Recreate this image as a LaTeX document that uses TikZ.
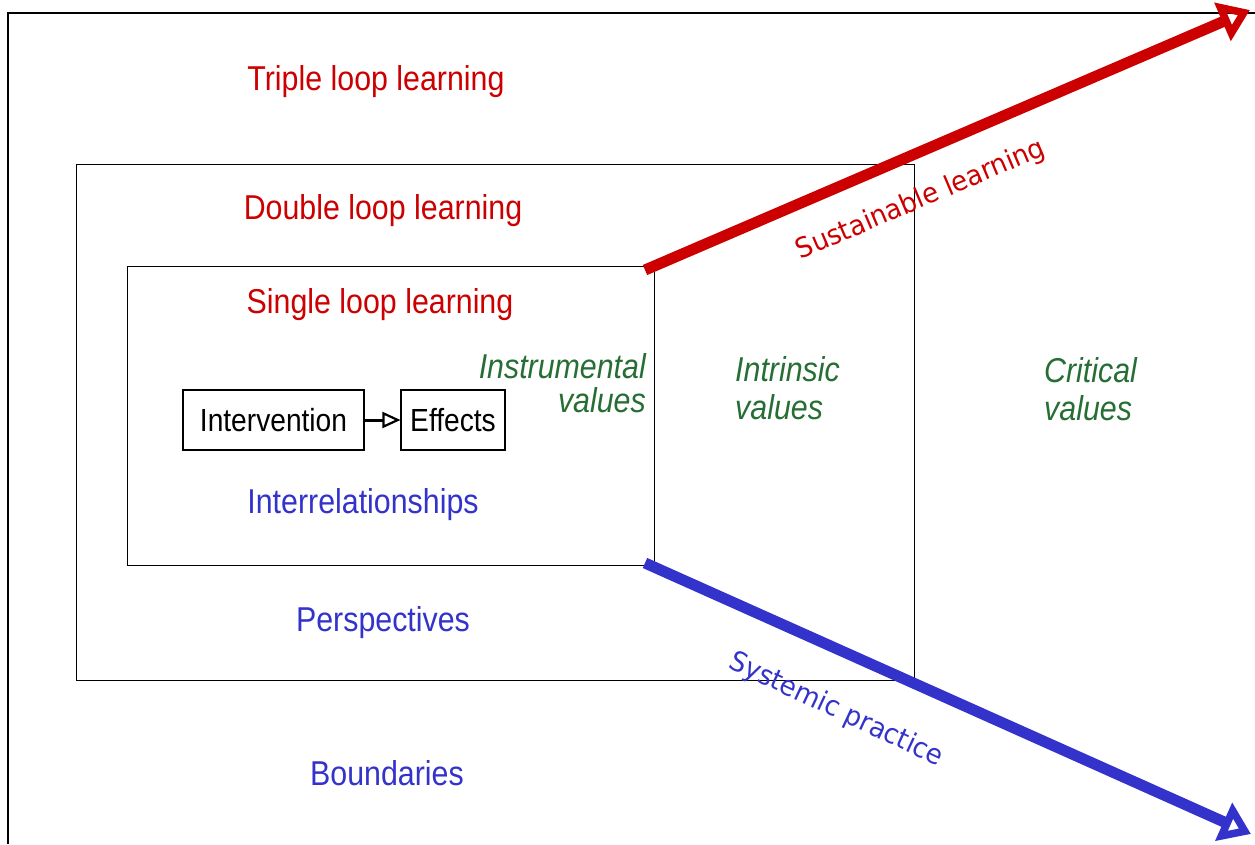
\documentclass[tikz,border=0pt]{standalone}
\usepackage{fontspec}
\setmainfont{Liberation Sans}[FakeStretch=0.88]
\newfontfamily\slfont{DejaVu Sans}[FakeStretch=0.95]
\usetikzlibrary{arrows.meta}
\definecolor{cred}{RGB}{204,0,0}
\definecolor{cgreen}{RGB}{38,110,52}
\definecolor{cblue}{RGB}{51,51,204}
\begin{document}
\begin{tikzpicture}[x=1pt,y=-1pt,
  lbl/.style={font=\fontsize{34.5}{38}\selectfont, inner sep=0pt},
  redlbl/.style={lbl,text=cred},
  bluelbl/.style={lbl,text=cblue},
  grnlbl/.style={inner sep=0pt,text=cgreen,font=\fontsize{34.5}{38}\selectfont\itshape},
  frame/.style={draw,line width=1.3pt,inner sep=0pt},
  smallbox/.style={draw,line width=1.1pt,minimum height=60pt,inner sep=0pt,font=\fontsize{32}{35}\selectfont},
  bigarrow/.style={line width=11pt,-{Triangle[open,length=30pt,width=40pt,line width=8pt]}},
  diag/.style={font=\slfont\fontsize{27.5}{30}\selectfont,inner sep=0pt}]
\useasboundingbox (0,0) rectangle (1255,844);
% outer frame (open on right and bottom)
\coordinate (obl) at (8,844);
\coordinate (otl) at (8,13);
\coordinate (otr) at (1255,13);
\draw[line width=1.3pt] (obl) -- (otl) -- (otr);
% boxes
\node[frame,anchor=north west,minimum width=838pt,minimum height=516pt] (dbl) at (76,164) {};
\node[frame,anchor=north west,minimum width=527pt,minimum height=299pt] (sgl) at (127,266) {};
% labels
\node[redlbl] (t3) at (376,82) {Triple loop learning};
\node[redlbl] (t2) at (383,211) {Double loop learning};
\node[redlbl] (t1) at (380,305) {Single loop learning};
\node[grnlbl,align=right,anchor=east] (ins) at (646,383) {Instrumental\\[-4pt]values};
\node[grnlbl,align=left,anchor=west] (intr) at (735,388) {Intrinsic\\[0pt]values};
\node[grnlbl,align=left,anchor=west] (crit) at (1044,389) {Critical\\[0pt]values};
\node[smallbox,minimum width=181pt] (iv) at (273.5,420) {Intervention};
\node[smallbox,minimum width=104pt] (ef) at (453,420) {Effects};
\draw[line width=3pt,-{Triangle[open,length=18pt,width=16pt,line width=2.2pt]}] ([xshift=-2pt]iv.east) -- (ef.west);
\node[bluelbl] (irel) at (363,505) {Interrelationships};
\node[bluelbl] (persp) at (383,623) {Perspectives};
\node[bluelbl] (bound) at (387,773) {Boundaries};
% big arrows
\coordinate (rs) at (645,270);
\coordinate (re) at (1250,10);
\coordinate (bs) at (645,563);
\coordinate (be) at (1251,834);
\draw[bigarrow,draw=cred] (rs) -- (re);
\draw[bigarrow,draw=cblue] (bs) -- (be);
\node[diag,text=cred,rotate=23] (sust) at (921,200) {Sustainable learning};
\node[diag,text=cblue,rotate=-25] (syst) at (836,710) {Systemic practice};
\end{tikzpicture}
\end{document}
